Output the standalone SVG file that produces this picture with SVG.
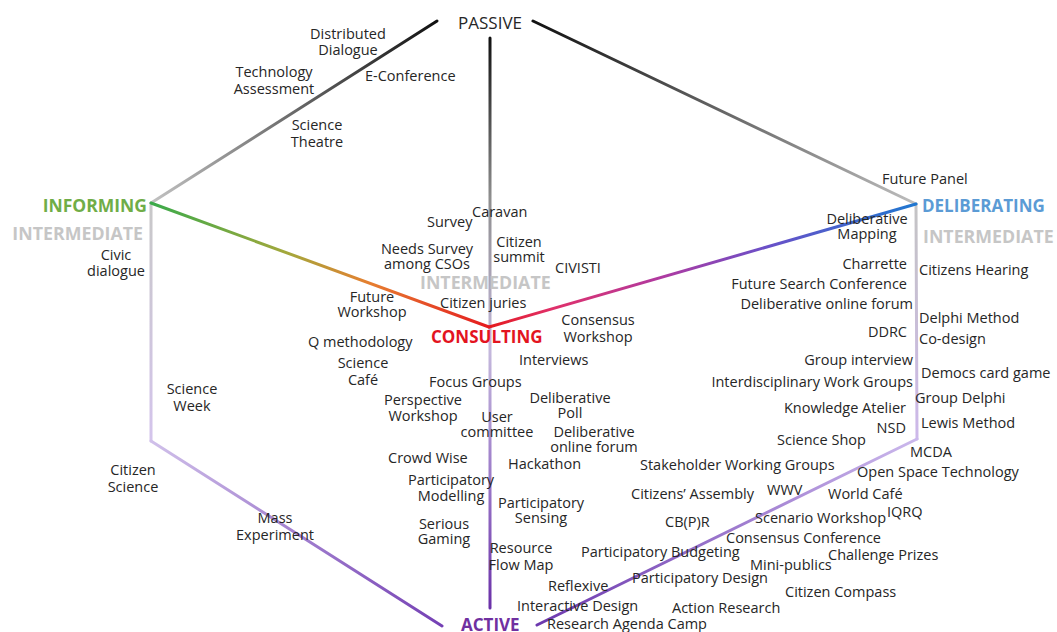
<svg xmlns="http://www.w3.org/2000/svg" width="1057" height="632" viewBox="0 0 1057 632">
<style>
.t{font-family:"Open Sans","Liberation Sans",sans-serif;font-size:14.5px;fill:#262626}
.c{text-anchor:middle}
.e{text-anchor:end}
.h{font-weight:bold;font-size:17px}
.im{font-size:17.8px;fill:#c6c6c6}
.ln{fill:none;stroke-width:3;stroke-linecap:round}
</style>
<defs>
<linearGradient id="gTL" gradientUnits="userSpaceOnUse" x1="437" y1="21" x2="151" y2="203"><stop offset="0" stop-color="#111"/><stop offset="1" stop-color="#c2c2c2"/></linearGradient>
<linearGradient id="gTR" gradientUnits="userSpaceOnUse" x1="533" y1="21" x2="916" y2="204"><stop offset="0" stop-color="#111"/><stop offset="1" stop-color="#bdbdbd"/></linearGradient>
<linearGradient id="gV" gradientUnits="userSpaceOnUse" x1="490" y1="38" x2="490" y2="608"><stop offset="0" stop-color="#111"/><stop offset="0.28" stop-color="#8e8e8e"/><stop offset="0.55" stop-color="#c4b8dc"/><stop offset="0.78" stop-color="#9a78c8"/><stop offset="1" stop-color="#6a30a8"/></linearGradient>
<linearGradient id="gLV" gradientUnits="userSpaceOnUse" x1="151" y1="203" x2="151" y2="441"><stop offset="0" stop-color="#c8c8c8"/><stop offset="1" stop-color="#d4c4ec"/></linearGradient>
<linearGradient id="gLL" gradientUnits="userSpaceOnUse" x1="151" y1="441" x2="442" y2="626"><stop offset="0" stop-color="#d0c0ea"/><stop offset="1" stop-color="#7440b4"/></linearGradient>
<linearGradient id="gRV" gradientUnits="userSpaceOnUse" x1="916" y1="204" x2="917" y2="439"><stop offset="0" stop-color="#c4c4c4"/><stop offset="1" stop-color="#cdb8ea"/></linearGradient>
<linearGradient id="gRL" gradientUnits="userSpaceOnUse" x1="917" y1="439" x2="537" y2="625"><stop offset="0" stop-color="#cbb8ec"/><stop offset="1" stop-color="#6c38ae"/></linearGradient>
<linearGradient id="gIL" gradientUnits="userSpaceOnUse" x1="151" y1="203" x2="489" y2="327"><stop offset="0" stop-color="#3aaa4a"/><stop offset="0.4" stop-color="#a3a83c"/><stop offset="0.65" stop-color="#e67e30"/><stop offset="1" stop-color="#e51a1e"/></linearGradient>
<linearGradient id="gIR" gradientUnits="userSpaceOnUse" x1="916" y1="204" x2="489" y2="327"><stop offset="0" stop-color="#1f77d0"/><stop offset="0.35" stop-color="#6a50c8"/><stop offset="0.6" stop-color="#b03aa0"/><stop offset="0.85" stop-color="#e0306a"/><stop offset="1" stop-color="#e51a1e"/></linearGradient>
</defs>
<rect width="1057" height="632" fill="#fff"/>
<g id="connectors">
<line class="ln" x1="437" y1="21" x2="151" y2="203" stroke="url(#gTL)"/>
<line class="ln" x1="533" y1="21" x2="916" y2="204" stroke="url(#gTR)"/>
<line class="ln" x1="490" y1="38" x2="490" y2="608" stroke="url(#gV)"/>
<line class="ln" x1="151" y1="203" x2="151" y2="441" stroke="url(#gLV)"/>
<line class="ln" x1="151" y1="441" x2="442" y2="626" stroke="url(#gLL)"/>
<line class="ln" x1="916" y1="204" x2="917" y2="439" stroke="url(#gRV)"/>
<line class="ln" x1="917" y1="439" x2="537" y2="625" stroke="url(#gRL)"/>
<line class="ln" x1="151" y1="203" x2="489" y2="327" stroke="url(#gIL)"/>
<line class="ln" x1="916" y1="204" x2="489" y2="327" stroke="url(#gIR)"/>
</g>
<g id="passive"><text class="t c" x="490" y="29" style="font-size:17px">PASSIVE</text></g>
<g id="informing"><text class="t e h" x="147" y="212" style="fill:#70ad47;font-size:17.5px">INFORMING</text></g>
<g id="intermediate-left"><text class="t e h im" x="143" y="240">INTERMEDIATE</text></g>
<g id="deliberating"><text class="t h" x="922" y="212" style="fill:#5b9bd5">DELIBERATING</text></g>
<g id="intermediate-right"><text class="t h im" x="923" y="243">INTERMEDIATE</text></g>
<g id="intermediate-center"><text class="t h im" x="420" y="289">INTERMEDIATE</text></g>
<g id="consulting"><text class="t h" x="431" y="343" style="fill:#e3141f">CONSULTING</text></g>
<g id="active"><text class="t h" x="461" y="631" style="fill:#7030a0">ACTIVE</text></g>

<g id="distributed-dialogue"><text class="t c" x="348" y="39">Distributed</text><text class="t c" x="348" y="55">Dialogue</text></g>
<g id="technology-assessment"><text class="t c" x="274" y="77">Technology</text><text class="t c" x="274" y="94">Assessment</text></g>
<g id="e-conference"><text class="t" x="365" y="81">E-Conference</text></g>
<g id="science-theatre"><text class="t c" x="317" y="130">Science</text><text class="t c" x="317" y="147">Theatre</text></g>
<g id="civic-dialogue"><text class="t c" x="116" y="260">Civic</text><text class="t c" x="116" y="276">dialogue</text></g>
<g id="caravan"><text class="t" x="472" y="217">Caravan</text></g>
<g id="survey"><text class="t" x="427" y="227">Survey</text></g>
<g id="citizen-summit"><text class="t c" x="519" y="247">Citizen</text><text class="t c" x="519" y="262">summit</text></g>
<g id="needs-survey"><text class="t c" x="427" y="254">Needs Survey</text><text class="t c" x="427" y="269">among CSOs</text></g>
<g id="civisti"><text class="t" x="555" y="273">CIVISTI</text></g>
<g id="future-workshop"><text class="t c" x="372" y="302">Future</text><text class="t c" x="372" y="317">Workshop</text></g>
<g id="citizen-juries"><text class="t" x="440" y="308">Citizen juries</text></g>
<g id="consensus-workshop"><text class="t c" x="598" y="325">Consensus</text><text class="t c" x="598" y="342">Workshop</text></g>
<g id="q-methodology"><text class="t" x="308" y="347">Q methodology</text></g>
<g id="science-cafe"><text class="t c" x="363" y="368">Science</text><text class="t c" x="363" y="385">Café</text></g>
<g id="interviews"><text class="t" x="519" y="365">Interviews</text></g>
<g id="focus-groups"><text class="t" x="429" y="387">Focus Groups</text></g>
<g id="science-week"><text class="t c" x="192" y="394">Science</text><text class="t c" x="192" y="411">Week</text></g>
<g id="perspective-workshop"><text class="t c" x="423" y="405">Perspective</text><text class="t c" x="423" y="421">Workshop</text></g>
<g id="deliberative-poll"><text class="t c" x="570" y="403">Deliberative</text><text class="t c" x="570" y="418">Poll</text></g>
<g id="user-committee"><text class="t c" x="497" y="422">User</text><text class="t c" x="497" y="437">committee</text></g>
<g id="deliberative-online-forum-c"><text class="t c" x="594" y="437">Deliberative</text><text class="t c" x="594" y="452">online forum</text></g>
<g id="crowd-wise"><text class="t" x="388" y="463">Crowd Wise</text></g>
<g id="hackathon"><text class="t" x="508" y="469">Hackathon</text></g>
<g id="participatory-modelling"><text class="t c" x="451" y="485">Participatory</text><text class="t c" x="451" y="501">Modelling</text></g>
<g id="participatory-sensing"><text class="t c" x="541" y="508">Participatory</text><text class="t c" x="541" y="523">Sensing</text></g>
<g id="serious-gaming"><text class="t c" x="444" y="529">Serious</text><text class="t c" x="444" y="544">Gaming</text></g>
<g id="resource-flow-map"><text class="t c" x="521" y="553">Resource</text><text class="t c" x="521" y="570">Flow Map</text></g>
<g id="citizen-science"><text class="t c" x="133" y="475">Citizen</text><text class="t c" x="133" y="492">Science</text></g>
<g id="mass-experiment"><text class="t c" x="275" y="523">Mass</text><text class="t c" x="275" y="540">Experiment</text></g>
<g id="reflexive"><text class="t" x="548" y="591">Reflexive</text></g>
<g id="interactive-design"><text class="t" x="517" y="611">Interactive Design</text></g>
<g id="research-agenda-camp"><text class="t" x="547" y="629">Research Agenda Camp</text></g>

<g id="future-panel"><text class="t" x="882" y="184">Future Panel</text></g>
<g id="deliberative-mapping"><text class="t c" x="867" y="224">Deliberative</text><text class="t c" x="867" y="239">Mapping</text></g>
<g id="charrette"><text class="t e" x="907" y="269">Charrette</text></g>
<g id="citizens-hearing"><text class="t" x="919" y="275">Citizens Hearing</text></g>
<g id="future-search-conference"><text class="t e" x="907" y="289">Future Search Conference</text></g>
<g id="deliberative-online-forum-r"><text class="t e" x="913" y="309">Deliberative online forum</text></g>
<g id="delphi-method"><text class="t" x="919" y="323">Delphi Method</text></g>
<g id="ddrc"><text class="t e" x="907" y="337">DDRC</text></g>
<g id="co-design"><text class="t" x="919" y="344">Co-design</text></g>
<g id="group-interview"><text class="t e" x="913" y="365">Group interview</text></g>
<g id="democs-card-game"><text class="t" x="921" y="378">Democs card game</text></g>
<g id="interdisciplinary-work-groups"><text class="t e" x="913" y="387">Interdisciplinary Work Groups</text></g>
<g id="group-delphi"><text class="t" x="915" y="403">Group Delphi</text></g>
<g id="knowledge-atelier"><text class="t e" x="906" y="413">Knowledge Atelier</text></g>
<g id="lewis-method"><text class="t" x="921" y="428">Lewis Method</text></g>
<g id="nsd"><text class="t e" x="906" y="433">NSD</text></g>
<g id="science-shop"><text class="t" x="777" y="445">Science Shop</text></g>
<g id="mcda"><text class="t" x="910" y="457">MCDA</text></g>
<g id="stakeholder-working-groups"><text class="t" x="640" y="470">Stakeholder Working Groups</text></g>
<g id="open-space-technology"><text class="t" x="857" y="477">Open Space Technology</text></g>
<g id="citizens-assembly"><text class="t" x="631" y="499">Citizens’ Assembly</text></g>
<g id="wwv"><text class="t" x="767" y="495">WWV</text></g>
<g id="world-cafe"><text class="t" x="828" y="499">World Café</text></g>
<g id="iqrq"><text class="t" x="887" y="517">IQRQ</text></g>
<g id="cbpr"><text class="t" x="665" y="527">CB(P)R</text></g>
<g id="scenario-workshop"><text class="t" x="755" y="523">Scenario Workshop</text></g>
<g id="consensus-conference"><text class="t" x="726" y="543">Consensus Conference</text></g>
<g id="participatory-budgeting"><text class="t" x="581" y="557">Participatory Budgeting</text></g>
<g id="challenge-prizes"><text class="t" x="828" y="560">Challenge Prizes</text></g>
<g id="mini-publics"><text class="t" x="750" y="570">Mini-publics</text></g>
<g id="participatory-design"><text class="t" x="632" y="583">Participatory Design</text></g>
<g id="citizen-compass"><text class="t" x="785" y="597">Citizen Compass</text></g>
<g id="action-research"><text class="t" x="672" y="613">Action Research</text></g>
</svg>
